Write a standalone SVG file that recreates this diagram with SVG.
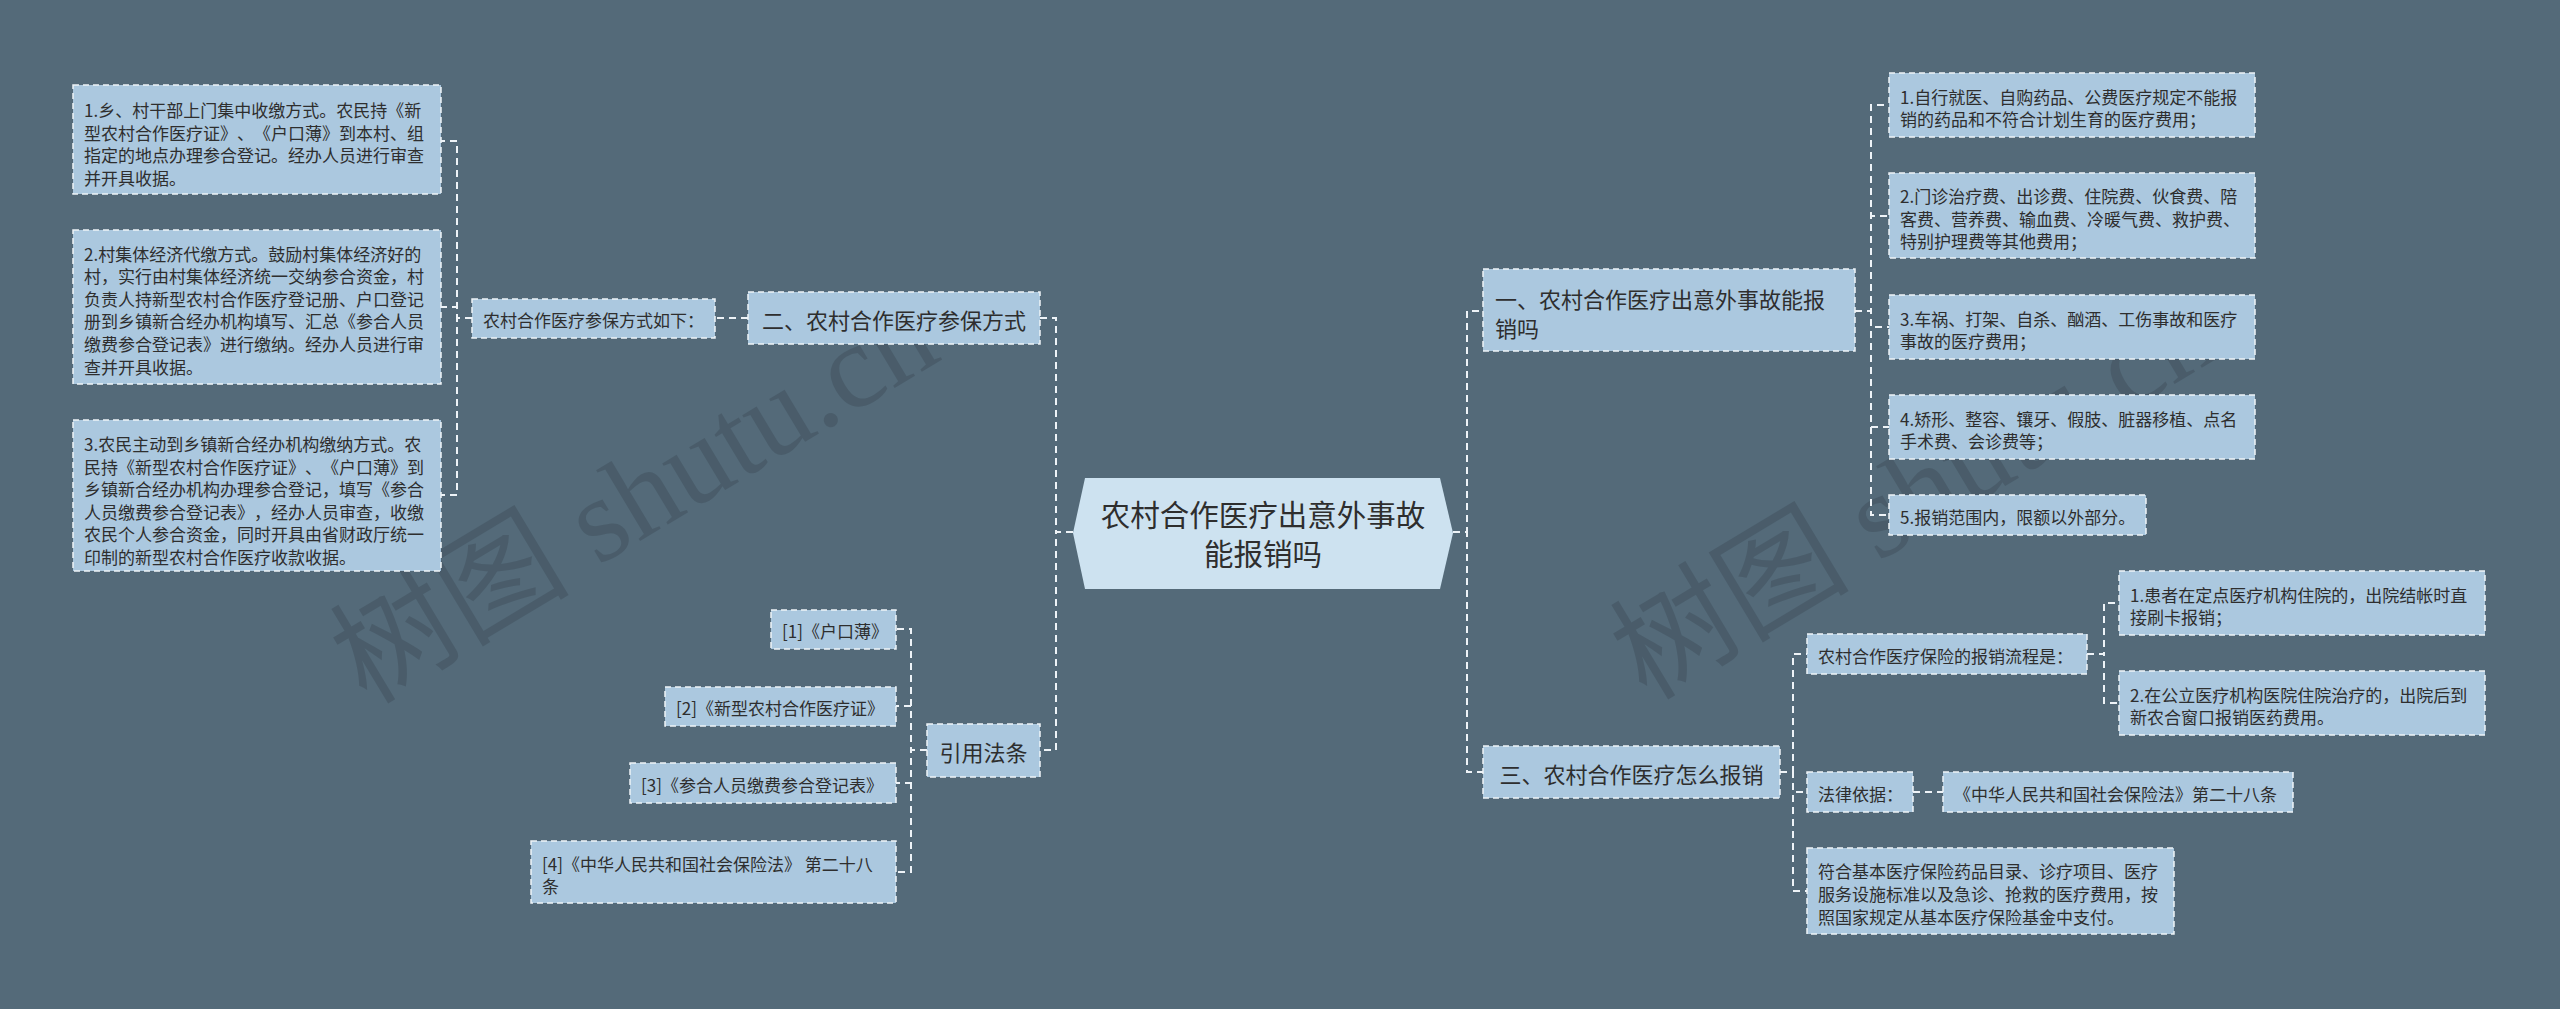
<svg xmlns="http://www.w3.org/2000/svg" width="2560" height="1009" viewBox="0 0 2560 1009">
<style>
.bg{fill:#546a79}
.box{fill:#abc8df;stroke:#eef3f7;stroke-width:1.5;stroke-dasharray:6 4}
.ctr{fill:#cde2f0}
.t{font-family:"Noto Sans CJK SC","Noto Sans",sans-serif;fill:#2e2e2e;dominant-baseline:central;text-spacing-trim:space-all;font-feature-settings:"halt" 0,"chws" 0}
.s{font-size:17px}
.m{font-size:22px}
.l{font-size:29.5px}
.c{text-anchor:middle}
.conn path{fill:none;stroke:#eef3f7;stroke-width:2;stroke-dasharray:7 5}
.wm{font-family:"Liberation Serif","Noto Sans CJK SC",serif;font-size:120px;fill:#3a4854;opacity:0.38}
</style>
<rect class="bg" x="0" y="0" width="2560" height="1009"/>
<text class="wm" transform="translate(655,532) rotate(-31)" text-anchor="middle">树图 shutu.cn</text>
<text class="wm" transform="translate(1935,528) rotate(-31)" text-anchor="middle">树图 shutu.cn</text>
<g id="connectors" class="conn">
<path d="M1073,532 H1056 V318 H1040"/>
<path d="M1073,532 H1056 V750 H1040"/>
<path d="M748,318 H715"/>
<path d="M472,318 H457 V141 H441"/>
<path d="M472,318 H457 V307 H441"/>
<path d="M472,318 H457 V495 H441"/>
<path d="M927,750 H911 V629 H896"/>
<path d="M927,750 H911 V706 H896"/>
<path d="M927,750 H911 V783 H896"/>
<path d="M927,750 H911 V872 H896"/>
<path d="M1453,532 H1467 V311 H1483"/>
<path d="M1453,532 H1467 V772 H1483"/>
<path d="M1855,311 H1871 V105 H1889"/>
<path d="M1855,311 H1871 V216 H1889"/>
<path d="M1855,311 H1871 V327 H1889"/>
<path d="M1855,311 H1871 V427 H1889"/>
<path d="M1855,311 H1871 V515 H1889"/>
<path d="M1780,772 H1793 V654 H1807"/>
<path d="M1780,772 H1793 V792 H1807"/>
<path d="M1780,772 H1793 V891 H1807"/>
<path d="M2087,654 H2104 V603 H2119"/>
<path d="M2087,654 H2104 V703 H2119"/>
<path d="M1913,792 H1943"/>
</g>
<g id="center">
<polygon class="ctr" points="1085,478 1440,478 1453,533 1440,589 1085,589 1073,533"/>
<text class="t l c"><tspan x="1263" y="513">农村合作医疗出意外事故</tspan><tspan x="1263" y="552">能报销吗</tspan></text>
</g>
<g id="n-two">
<rect class="box" x="748" y="292" width="292" height="52"/>
<text class="t m c" x="894" y="319">二、农村合作医疗参保方式</text>
</g>
<g id="n-two-sub">
<rect class="box" x="472" y="299" width="243" height="39"/>
<text class="t s" x="483" y="319">农村合作医疗参保方式如下：</text>
</g>
<g id="n-L1">
<rect class="box" x="73" y="85" width="368" height="109"/>
<text class="t s"><tspan x="84" y="109">1.乡、村干部上门集中收缴方式。农民持《新</tspan><tspan x="84" y="131.6">型农村合作医疗证》、《户口薄》到本村、组</tspan><tspan x="84" y="154.2">指定的地点办理参合登记。经办人员进行审查</tspan><tspan x="84" y="176.8">并开具收据。</tspan></text>
</g>
<g id="n-L2">
<rect class="box" x="73" y="230" width="368" height="154"/>
<text class="t s"><tspan x="84" y="252.5">2.村集体经济代缴方式。鼓励村集体经济好的</tspan><tspan x="84" y="275.1">村，实行由村集体经济统一交纳参合资金，村</tspan><tspan x="84" y="297.7">负责人持新型农村合作医疗登记册、户口登记</tspan><tspan x="84" y="320.3">册到乡镇新合经办机构填写、汇总《参合人员</tspan><tspan x="84" y="342.9">缴费参合登记表》进行缴纳。经办人员进行审</tspan><tspan x="84" y="365.5">查并开具收据。</tspan></text>
</g>
<g id="n-L3">
<rect class="box" x="73" y="420" width="368" height="151"/>
<text class="t s"><tspan x="84" y="443">3.农民主动到乡镇新合经办机构缴纳方式。农</tspan><tspan x="84" y="465.6">民持《新型农村合作医疗证》、《户口薄》到</tspan><tspan x="84" y="488.2">乡镇新合经办机构办理参合登记，填写《参合</tspan><tspan x="84" y="510.8">人员缴费参合登记表》，经办人员审查，收缴</tspan><tspan x="84" y="533.4">农民个人参合资金，同时开具由省财政厅统一</tspan><tspan x="84" y="556">印制的新型农村合作医疗收款收据。</tspan></text>
</g>
<g id="n-cite">
<rect class="box" x="927" y="724" width="113" height="53"/>
<text class="t m c" x="983.5" y="751">引用法条</text>
</g>
<g id="n-ref1">
<rect class="box" x="771" y="610" width="125" height="39"/>
<text class="t s" x="782" y="630">[1]《户口薄》</text>
</g>
<g id="n-ref2">
<rect class="box" x="665" y="687" width="231" height="39"/>
<text class="t s" x="676" y="707">[2]《新型农村合作医疗证》</text>
</g>
<g id="n-ref3">
<rect class="box" x="630" y="763" width="266" height="40"/>
<text class="t s" x="641" y="784">[3]《参合人员缴费参合登记表》</text>
</g>
<g id="n-ref4">
<rect class="box" x="531" y="841" width="365" height="62"/>
<text class="t s"><tspan x="542" y="862.7">[4]《中华人民共和国社会保险法》 第二十八</tspan><tspan x="542" y="885.3">条</tspan></text>
</g>
<g id="n-one">
<rect class="box" x="1483" y="269" width="372" height="82"/>
<text class="t m"><tspan x="1495" y="298">一、农村合作医疗出意外事故能报</tspan><tspan x="1495" y="327">销吗</tspan></text>
</g>
<g id="n-R1">
<rect class="box" x="1889" y="73" width="366" height="64"/>
<text class="t s"><tspan x="1900" y="95.7">1.自行就医、自购药品、公费医疗规定不能报</tspan><tspan x="1900" y="118.3">销的药品和不符合计划生育的医疗费用；</tspan></text>
</g>
<g id="n-R2">
<rect class="box" x="1889" y="173" width="366" height="85"/>
<text class="t s"><tspan x="1900" y="194.9">2.门诊治疗费、出诊费、住院费、伙食费、陪</tspan><tspan x="1900" y="217.5">客费、营养费、输血费、冷暖气费、救护费、</tspan><tspan x="1900" y="240.1">特别护理费等其他费用；</tspan></text>
</g>
<g id="n-R3">
<rect class="box" x="1889" y="295" width="366" height="64"/>
<text class="t s"><tspan x="1900" y="317.7">3.车祸、打架、自杀、酗酒、工伤事故和医疗</tspan><tspan x="1900" y="340.3">事故的医疗费用；</tspan></text>
</g>
<g id="n-R4">
<rect class="box" x="1889" y="395" width="366" height="64"/>
<text class="t s"><tspan x="1900" y="417.7">4.矫形、整容、镶牙、假肢、脏器移植、点名</tspan><tspan x="1900" y="440.3">手术费、会诊费等；</tspan></text>
</g>
<g id="n-R5">
<rect class="box" x="1889" y="495" width="257" height="40"/>
<text class="t s" x="1900" y="516">5.报销范围内，限额以外部分。</text>
</g>
<g id="n-three">
<rect class="box" x="1483" y="746" width="297" height="52"/>
<text class="t m c" x="1631.5" y="773">三、农村合作医疗怎么报销</text>
</g>
<g id="n-flow">
<rect class="box" x="1807" y="634" width="280" height="40"/>
<text class="t s" x="1818" y="655">农村合作医疗保险的报销流程是：</text>
</g>
<g id="n-P1">
<rect class="box" x="2119" y="571" width="366" height="64"/>
<text class="t s"><tspan x="2130" y="593.7">1.患者在定点医疗机构住院的，出院结帐时直</tspan><tspan x="2130" y="616.3">接刷卡报销；</tspan></text>
</g>
<g id="n-P2">
<rect class="box" x="2119" y="671" width="366" height="64"/>
<text class="t s"><tspan x="2130" y="693.7">2.在公立医疗机构医院住院治疗的，出院后到</tspan><tspan x="2130" y="716.3">新农合窗口报销医药费用。</tspan></text>
</g>
<g id="n-law">
<rect class="box" x="1807" y="772" width="106" height="40"/>
<text class="t s" x="1818" y="793">法律依据：</text>
</g>
<g id="n-lawref">
<rect class="box" x="1943" y="772" width="350" height="40"/>
<text class="t s" x="1954" y="793">《中华人民共和国社会保险法》第二十八条</text>
</g>
<g id="n-pay">
<rect class="box" x="1807" y="848" width="367" height="86"/>
<text class="t s"><tspan x="1818" y="870.4">符合基本医疗保险药品目录、诊疗项目、医疗</tspan><tspan x="1818" y="893">服务设施标准以及急诊、抢救的医疗费用，按</tspan><tspan x="1818" y="915.6">照国家规定从基本医疗保险基金中支付。</tspan></text>
</g>
</svg>
